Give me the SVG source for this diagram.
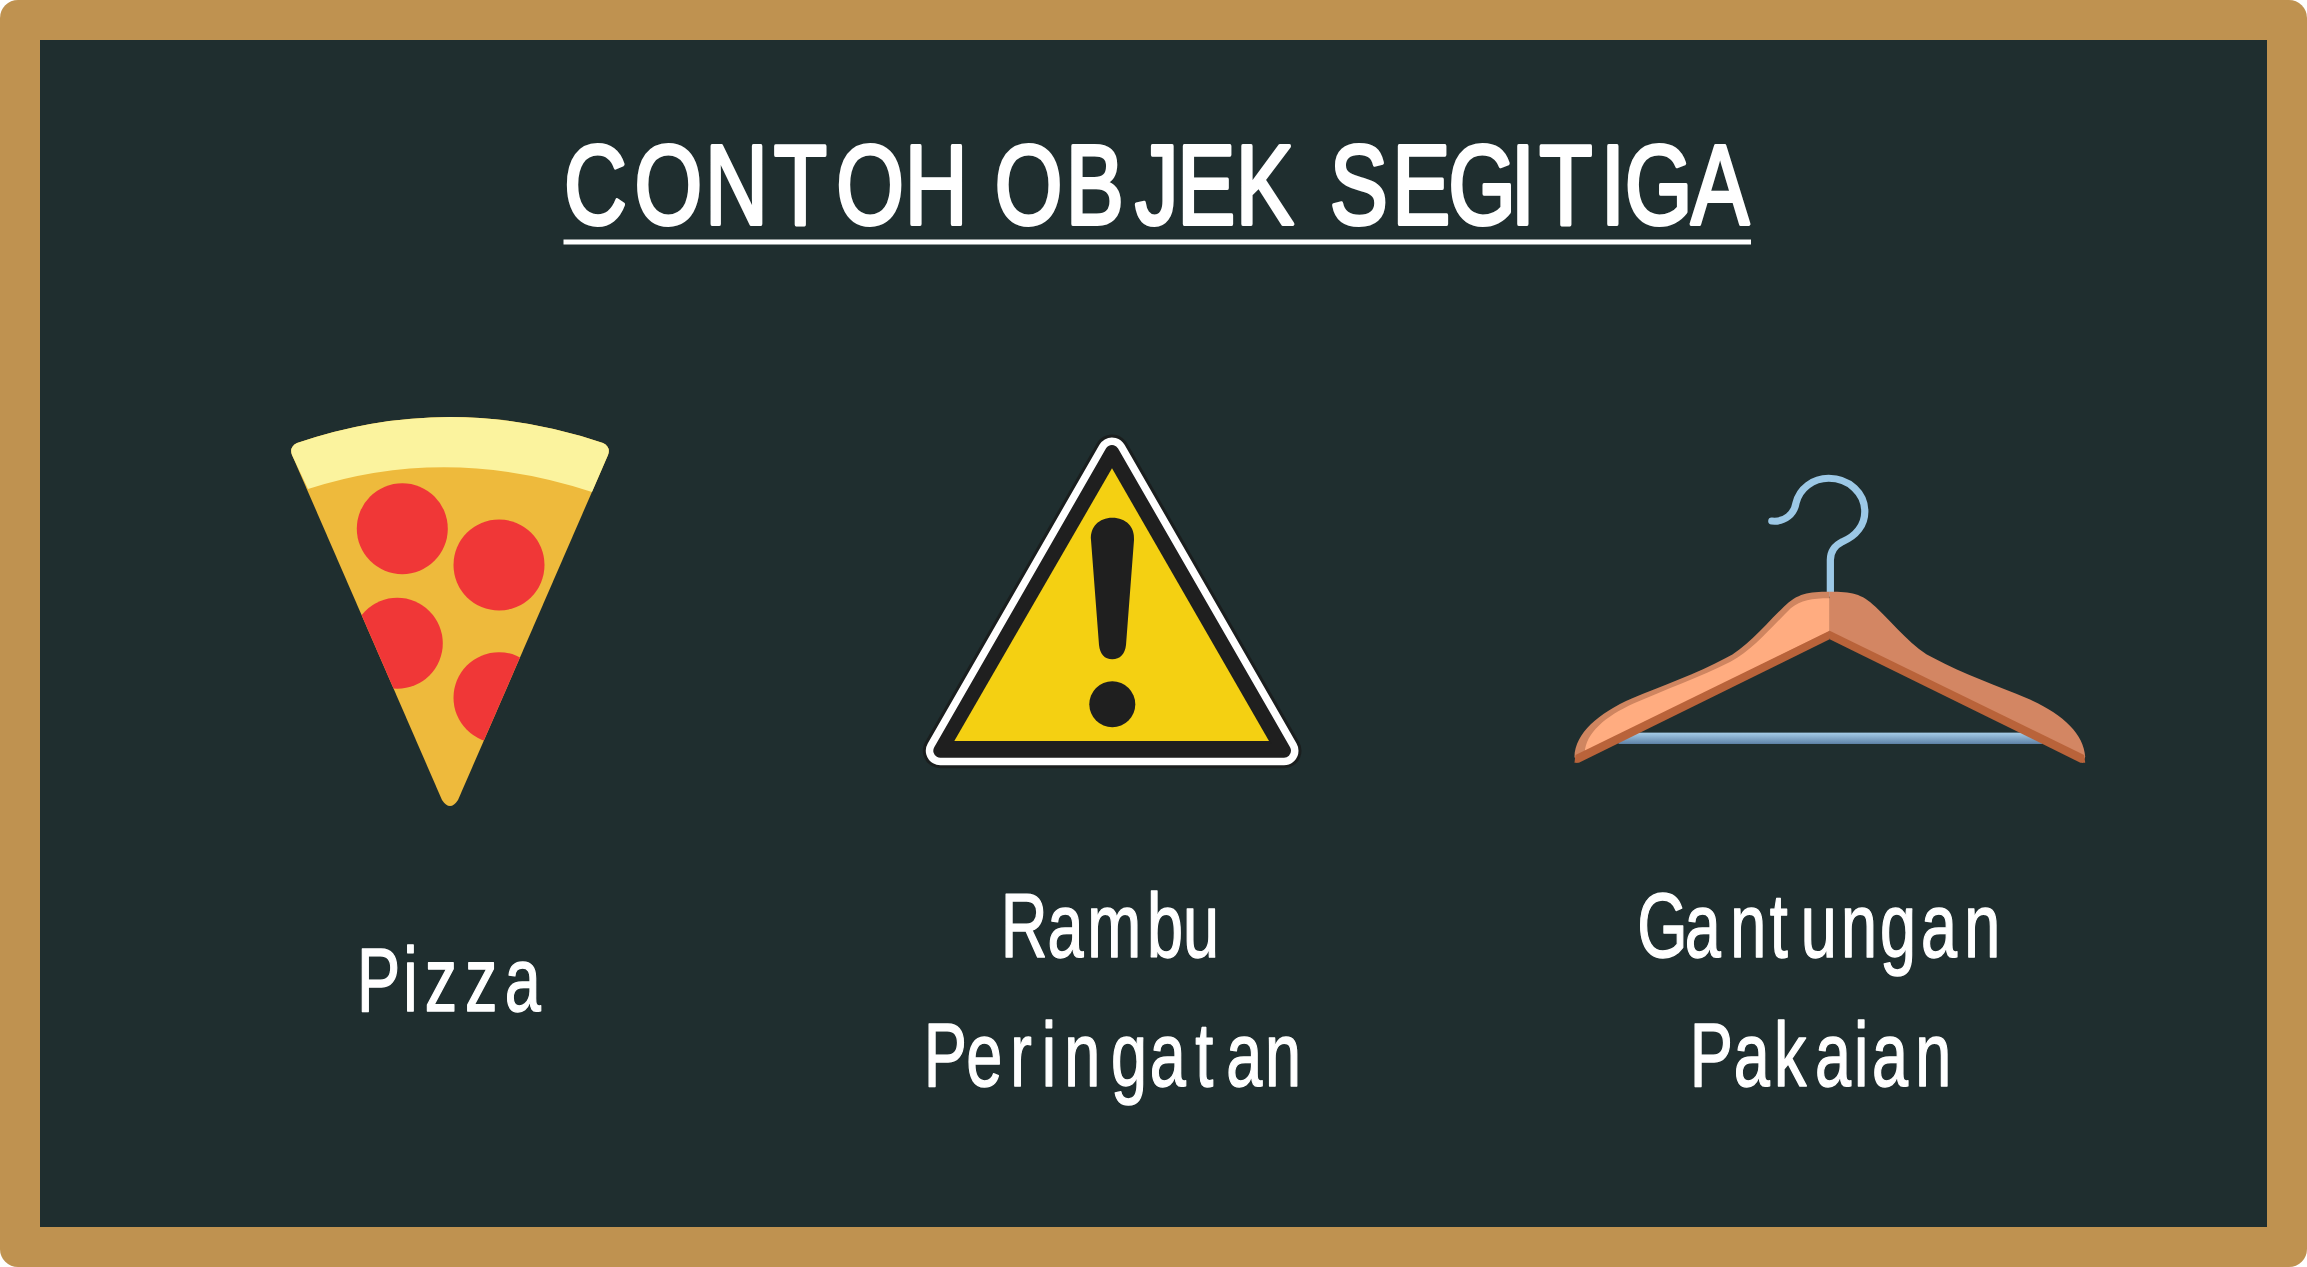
<svg xmlns="http://www.w3.org/2000/svg" width="2307" height="1267" viewBox="0 0 2307 1267">
<style>
.t{font-family:"Liberation Sans",Arial,sans-serif;fill:#fff;stroke:#fff;stroke-linejoin:round;stroke-linecap:round}
.title{font-size:113px;stroke-width:4px}
.label{font-size:90px;stroke-width:1.5px}
</style>
<defs>
<linearGradient id="bar" x1="0" y1="0" x2="0" y2="1"><stop offset="0" stop-color="#a6cde8"/><stop offset="1" stop-color="#5f83a8"/></linearGradient>
<clipPath id="slice"><path d="M297 443Q450 391 603 443Q611 447 608 455L458 800Q450 812 442 800L292 455Q289 447 297 443Z"/></clipPath>
</defs>
<rect width="2307" height="1267" rx="18" fill="#bf9250"/>
<rect x="40" y="40" width="2227" height="1187" fill="#1f2e2f"/>
<g id="title">
<text class="t title" transform="scale(.77 1)" y="224" x="732.5 824 915.6 1005 1086 1175 1250 1292 1384 1474 1529 1605 1680 1727 1808 1881 1962 1999 2079 2110 2196">CONTOH OBJEK SEGITIGA</text>
<rect x="563.5" y="239.5" width="1187.5" height="5" fill="#fff"/>
</g>
<g id="pizza">
<path d="M297 443Q450 391 603 443Q611 447 608 455L458 800Q450 812 442 800L292 455Q289 447 297 443Z" fill="#eeba3c"/>
<g clip-path="url(#slice)" fill="#f03737">
<circle cx="402.3" cy="528.7" r="45.5"/><circle cx="499" cy="565" r="45.5"/><circle cx="397.3" cy="643.3" r="45.5"/><circle cx="499" cy="697.7" r="45.5"/>
</g>
<path d="M297 443Q450 391 603 443Q611 447 608 455L592 492Q447 444 308 489L292 455Q289 447 297 443Z" fill="#fbf39e"/>
<text class="t label" transform="scale(.72 1)" y="1011" x="496 560 590 646 701">Pizza</text>
</g>
<g id="rambu">
<path d="M1112 452L940.3 750.7H1284Z" fill="#1f1f1f" stroke="#1a1e1e" stroke-width="35" stroke-linejoin="round"/>
<path d="M1112 452L940.3 750.7H1284Z" fill="#fff" stroke="#fff" stroke-width="29" stroke-linejoin="round"/>
<path d="M1112 452L940.3 750.7H1284Z" fill="#1f1f1f" stroke="#1f1f1f" stroke-width="14" stroke-linejoin="round"/>
<path d="M1112 468.3L954.3 741H1269Z" fill="#f4d012"/>
<path d="M1112.3 517.7C1126 517.7 1135 527 1134 540L1126 645C1125 654 1120 659.3 1112.3 659.3C1104.5 659.3 1100 654 1099 645L1091 540C1090 527 1099 517.7 1112.3 517.7Z" fill="#1f1f1f"/>
<circle cx="1112.3" cy="704.3" r="23" fill="#1f1f1f"/>
<text class="t label" transform="scale(.72 1)" y="956.7" x="1390 1455 1510 1593 1643">Rambu</text>
<text class="t label" transform="scale(.72 1)" y="1086" x="1283 1342 1403 1447 1478 1543 1597 1660 1703 1757">Peringatan</text>
</g>
<g id="gantungan">
<g transform="translate(1560 460) scale(.3444 .3333)">
<path d="M615 183C655 187 680 160 685 130C695 85 735 55 780 55C840 55 885 100 885 155C885 195 860 228 820 245C795 258 785 275 785 300V400" fill="none" stroke="#9cc8e6" stroke-width="21" stroke-linecap="round"/>
<rect x="170" y="818" width="1230" height="34" fill="url(#bar)"/>
<path d="M783 395C720 395 690 400 650 440C590 500 540 565 480 595C400 640 290 680 210 715C110 760 45 820 42 890L48 908L783 535Z" fill="#cf8560"/>
<path d="M783 415C730 415 700 420 670 445C610 505 560 570 495 605C410 650 300 690 215 730C130 770 75 820 72 878L783 512Z" fill="#ffac80"/>
<path d="M783 395C846 395 876 400 916 440C976 500 1026 565 1086 595C1166 640 1276 680 1356 715C1456 760 1521 820 1525 890L1518 908L783 535Z" fill="#d38663"/>
<path d="M783 512V538L55 908H42L45 885Z" fill="#b9633a"/>
<path d="M783 512V538L1511 908H1525L1522 885Z" fill="#b9633a"/>
</g>
<text class="t label" transform="scale(.72 1)" y="956.7" x="2274 2340 2403 2458 2501 2557 2611 2668 2728">Gantungan</text>
<text class="t label" transform="scale(.72 1)" y="1086" x="2347 2408 2464 2521 2575 2600 2660">Pakaian</text>
</g>
</svg>
